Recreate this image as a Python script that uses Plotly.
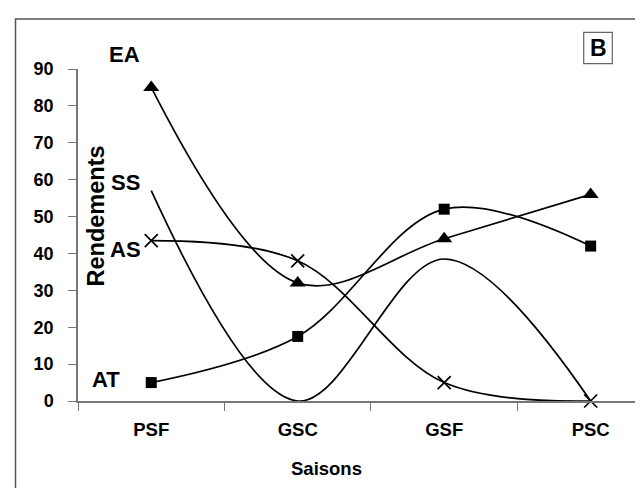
import plotly.graph_objects as go

# ---- data ----
categories = ["PSF", "GSC", "GSF", "PSC"]
ea_values = [85, 32, 44, 56]      # triangles
at_values = [5, 17.5, 52, 42]     # squares
as_values = [43.5, 38, 5, 0]      # crosses
ss_values = [57, 0, 38.5, 0]      # no markers
y_ticks = [0, 10, 20, 30, 40, 50, 60, 70, 80, 90]

W, H = 643, 488
L, R, T, B = 70, 12, 61, 95
PW, PH = W - L - R, H - T - B


def px(x):
    return (x - L) / PW


def py(y):
    return (H - B - y) / PH


FONT = "Liberation Sans, Arial, sans-serif"
fig = go.Figure()

line = dict(color="black", width=1.7, shape="spline", smoothing=1)

fig.add_trace(go.Scatter(x=categories, y=ea_values, mode="lines+markers",
                         line=line, cliponaxis=False,
                         marker=dict(symbol="triangle-up", size=14, color="black")))
fig.add_trace(go.Scatter(x=categories, y=at_values, mode="lines+markers",
                         line=line, cliponaxis=False,
                         marker=dict(symbol="square", size=11, color="black")))
fig.add_trace(go.Scatter(x=categories, y=as_values, mode="lines+markers",
                         line=line, cliponaxis=False,
                         marker=dict(symbol="x-thin", size=13, color="black",
                                     line=dict(color="black", width=1.7))))
fig.add_trace(go.Scatter(x=categories, y=ss_values, mode="lines",
                         line=line, cliponaxis=False))

axis_col = "#777777"
fig.update_layout(
    width=W, height=H,
    margin=dict(l=L, r=R, t=T, b=B, pad=0),
    paper_bgcolor="white", plot_bgcolor="white",
    showlegend=False,
    font=dict(family=FONT, color="black"),
    xaxis=dict(type="category", range=[-0.5, 3.33], tickson="boundaries",
               showline=True, linecolor=axis_col, linewidth=1.5,
               ticks="outside", ticklen=8, tickcolor=axis_col, tickwidth=1.2,
               showgrid=False, zeroline=False, ticklabelstandoff=11,
               tickfont=dict(family=FONT, size=18.5, weight="bold", color="black")),
    yaxis=dict(range=[0, 90], tickvals=y_ticks,
               showline=True, linecolor=axis_col, linewidth=1.5,
               ticks="outside", ticklen=8, tickcolor=axis_col, tickwidth=1.2,
               showgrid=False, zeroline=False, ticklabelstandoff=11,
               tickfont=dict(family=FONT, size=18, weight="bold", color="black")),
)

anns = [
    ("EA", 116, 47, 22),
    ("SS", 117, 174, 22),
    ("AS", 117, 241, 22),
    ("AT", 98, 371, 22),
]
for text, x, y, s in anns:
    fig.add_annotation(text=text, x=px(x), y=py(y), xref="paper", yref="paper",
                       showarrow=False, xanchor="center", yanchor="middle",
                       font=dict(family=FONT, size=s, weight="bold", color="black"))

fig.add_annotation(text="Rendements", x=px(87), y=py(208.5), xref="paper", yref="paper",
                   showarrow=False, textangle=-90, xanchor="center", yanchor="middle",
                   font=dict(family=FONT, size=23.5, weight="bold", color="black"))
fig.add_annotation(text="Saisons", x=px(318), y=py(461), xref="paper", yref="paper",
                   showarrow=False, xanchor="center", yanchor="middle",
                   font=dict(family=FONT, size=18.5, weight="bold", color="black"))
fig.add_annotation(text="B", x=px(590), y=py(40.5), xref="paper", yref="paper",
                   showarrow=False, xanchor="center", yanchor="middle",
                   font=dict(family=FONT, size=23, weight="bold", color="black"))

# B box
fig.add_shape(type="rect", xref="paper", yref="paper",
              x0=px(575.7), x1=px(604.3), y0=py(55.7), y1=py(24.3),
              line=dict(color="#666666", width=1.2))
# outer frame
fig.add_shape(type="rect", xref="paper", yref="paper",
              x0=px(7.5), x1=px(641), y0=py(520), y1=py(11),
              line=dict(color="#555555", width=1.5))

fig.write_html("out.html")
